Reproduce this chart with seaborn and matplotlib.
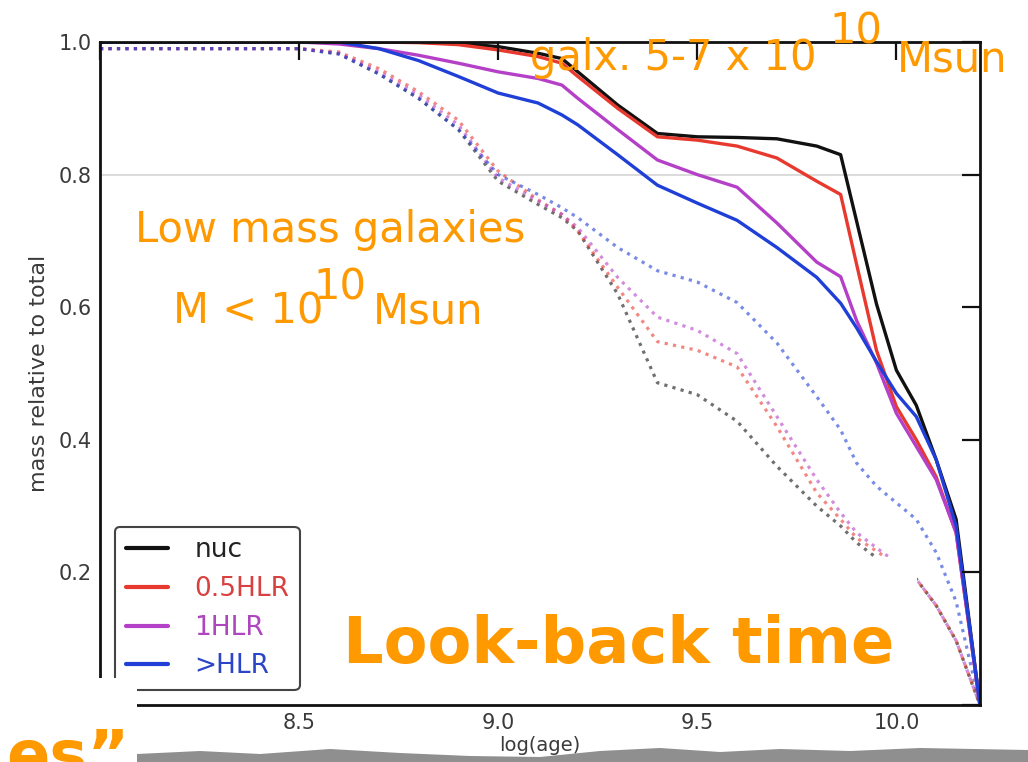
import matplotlib
matplotlib.use("Agg")
import matplotlib.pyplot as plt
from matplotlib.patches import Rectangle, Polygon
from matplotlib.lines import Line2D
import numpy as np
import pandas as pd
import seaborn as sns

# ---- data: cumulative stellar mass fraction vs log(age) ----
log_age = [8.0, 8.5, 8.6, 8.7, 8.8, 8.9, 9.0, 9.1, 9.16, 9.2, 9.3, 9.4,
           9.5, 9.6, 9.7, 9.8, 9.86, 9.9, 9.95, 10.0, 10.05, 10.1, 10.15, 10.21]

# galaxies of 5-7 x 10^10 Msun (solid)
nuc = [1.0, 1.0, 1.0, 1.0, 1.0, 0.998, 0.993, 0.983, 0.975, 0.955, 0.905, 0.862,
       0.857, 0.856, 0.854, 0.843, 0.83, 0.73, 0.605, 0.505, 0.452, 0.37, 0.28, 0.0]
hlr05 = [1.0, 1.0, 1.0, 1.0, 0.999, 0.996, 0.988, 0.978, 0.968, 0.948, 0.90, 0.857,
         0.852, 0.843, 0.825, 0.79, 0.77, 0.665, 0.535, 0.45, 0.40, 0.344, 0.26, 0.0]
hlr1 = [1.0, 1.0, 0.997, 0.99, 0.98, 0.968, 0.955, 0.945, 0.935, 0.915, 0.868, 0.822,
        0.80, 0.781, 0.727, 0.668, 0.646, 0.58, 0.516, 0.44, 0.39, 0.34, 0.26, 0.0]
hlr_out = [1.0, 1.0, 1.0, 0.99, 0.972, 0.948, 0.923, 0.908, 0.89, 0.875, 0.83, 0.784,
           0.757, 0.731, 0.69, 0.645, 0.606, 0.569, 0.518, 0.47, 0.435, 0.37, 0.27, 0.0]

# low mass galaxies, M < 10^10 Msun (dotted)
nuc_low = [0.99, 0.99, 0.982, 0.952, 0.915, 0.868, 0.79, 0.755, 0.735, 0.715, 0.62, 0.486,
           0.468, 0.428, 0.36, 0.30, 0.27, 0.245, 0.222, 0.205, 0.19, 0.15, 0.097, 0.0]
hlr05_low = [0.99, 0.99, 0.985, 0.96, 0.925, 0.882, 0.805, 0.762, 0.74, 0.715, 0.63, 0.548,
             0.535, 0.51, 0.42, 0.32, 0.28, 0.252, 0.232, 0.212, 0.19, 0.15, 0.097, 0.0]
hlr1_low = [0.99, 0.99, 0.983, 0.955, 0.92, 0.875, 0.795, 0.76, 0.74, 0.72, 0.645, 0.585,
            0.565, 0.53, 0.435, 0.34, 0.29, 0.26, 0.237, 0.215, 0.19, 0.15, 0.097, 0.0]
hlr_out_low = [0.99, 0.99, 0.982, 0.952, 0.915, 0.868, 0.80, 0.77, 0.75, 0.735, 0.69, 0.655,
               0.638, 0.607, 0.546, 0.465, 0.415, 0.365, 0.33, 0.305, 0.28, 0.23, 0.156, 0.0]

regions = ["nuc", "0.5HLR", "1HLR", ">HLR"]
line_colors = ["#111111", "#e8392e", "#b540c8", "#1f3fd6"]
text_colors = ["#222222", "#d94040", "#b045c0", "#2a45c8"]
xticks = [8.0, 8.5, 9.0, 9.5, 10.0]
xticklabels = ["", "8.5", "9.0", "9.5", "10.0"]
yticks = [0.0, 0.2, 0.4, 0.6, 0.8, 1.0]
yticklabels = ["", "0.2", "0.4", "0.6", "0.8", "1.0"]

high = [nuc, hlr05, hlr1, hlr_out]
low = [nuc_low, hlr05_low, hlr1_low, hlr_out_low]

frames = []
for name, hi, lo in zip(regions, high, low):
    frames.append(pd.DataFrame({"log_age": log_age, "frac": hi, "region": name, "sample": "high"}))
    frames.append(pd.DataFrame({"log_age": log_age, "frac": lo, "region": name, "sample": "low"}))
df = pd.concat(frames, ignore_index=True)

# ---- figure ----
sns.set_theme(style="white")
plt.rcParams["font.family"] = ["DejaVu Sans"]
plt.rcParams["axes.axisbelow"] = False

W, H = 1028, 762
fig = plt.figure(figsize=(W / 100, H / 100), dpi=100)
fig.patch.set_facecolor("white")
ax = fig.add_axes([100 / W, 57 / H, 880 / W, 663 / H])
ax.set_facecolor("white")

ax.axhline(0.8, color="#d4d4d4", lw=1.2, zorder=0.8)

for name, col in zip(regions, line_colors):
    sub = df[(df["region"] == name) & (df["sample"] == "low")]
    sns.lineplot(data=sub, x="log_age", y="frac", ax=ax, color=col, lw=2.3,
                 linestyle=":", alpha=0.6, estimator=None, sort=False, legend=False)
for name, col in zip(regions, line_colors):
    sub = df[(df["region"] == name) & (df["sample"] == "high")]
    sns.lineplot(data=sub, x="log_age", y="frac", ax=ax, color=col, lw=2.4,
                 estimator=None, sort=False, legend=False)

ax.set_xlim(8.0, 10.21)
ax.set_ylim(0.0, 1.0)
ax.set_xticks(xticks)
ax.set_xticklabels(xticklabels)
ax.set_yticks(yticks)
ax.set_yticklabels(yticklabels)
ax.tick_params(direction="in", length=13, width=1.6, top=True, right=True,
               labelsize=15, labelcolor="#3a3a3a", color="#111111", pad=6)
for sp in ax.spines.values():
    sp.set_visible(True)
    sp.set_color("#111111")
    sp.set_linewidth(2.0)

ax.set_xlabel("log(age)", fontsize=14, color="#3a3a3a", labelpad=2)
ax.set_ylabel("mass relative to total", fontsize=16, color="#3a3a3a", labelpad=7)

handles = [Line2D([0], [0], color=c, lw=3) for c in line_colors]
leg = ax.legend(handles, regions, loc="lower left", bbox_to_anchor=(15 / 880, 15 / 663),
                borderaxespad=0, fontsize=19, handlelength=1.6, handletextpad=1.0,
                labelspacing=0.48, borderpad=0.4, frameon=True, fancybox=True,
                edgecolor="#444444", framealpha=1)
leg.get_frame().set_linewidth(1.5)
for t, c in zip(leg.get_texts(), text_colors):
    t.set_color(c)


def px(x, y):
    return x / W, 1 - y / H


# slide overlays: white cut-outs and a torn paper strip
for (x0, y0, x1, y1) in [(315, 557, 917, 700), (0, 678, 137, 762)]:
    fig.patches.append(Rectangle(px(x0, y1), (x1 - x0) / W, (y1 - y0) / H,
                                 transform=fig.transFigure, facecolor="white",
                                 edgecolor="none", zorder=5))

torn = [(137, 754), (200, 751), (260, 754), (330, 749), (400, 753), (470, 756),
        (540, 757), (600, 751), (660, 748), (720, 752), (780, 749), (850, 751),
        (920, 748), (1028, 750), (1028, 762), (137, 762)]
fig.patches.append(Polygon([px(x, y) for x, y in torn], closed=True,
                           transform=fig.transFigure, facecolor="#8f8f8f",
                           edgecolor="none", zorder=5))

orange = "#ff9900"
ann = dict(color=orange, fontsize=30, ha="center", va="baseline", zorder=7)
fig.text(*px(673, 70), "galx. 5-7 x 10", **ann)
fig.text(*px(856, 44), "10", **ann)
fig.text(*px(952, 71), "Msun", **ann)
fig.text(*px(330, 242), "Low mass galaxies", **ann)
fig.text(*px(248, 323), "M < 10", **ann)
fig.text(*px(340, 300), "10", **ann)
fig.text(*px(428, 323), "Msun", **ann)
fig.text(*px(619, 663), "Look-back time", color=orange, fontsize=46,
         fontweight="bold", ha="center", va="baseline", zorder=7)
fig.text(*px(130, 776), "es\u201d", color=orange, fontsize=46,
         fontweight="bold", ha="right", va="baseline", zorder=7)

fig.savefig("out.png", dpi=100)
